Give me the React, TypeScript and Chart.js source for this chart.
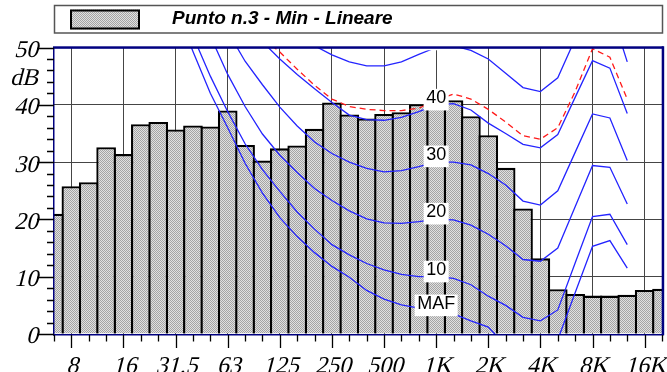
import React, { useEffect, useRef } from 'react';
import { Chart, registerables } from 'chart.js';

Chart.register(...registerables);

// 1/3-octave band centres (Hz)
const bands = ['6.3', '8', '10', '12.5', '16', '20', '25', '31.5', '40', '50', '63', '80', '100', '125', '160', '200', '250', '315', '400', '500', '630', '800', '1K', '1.25K', '1.6K', '2K', '2.5K', '3.15K', '4K', '5K', '6.3K', '8K', '10K', '12.5K', '16K', '20K'];
const octaveLabels = ['8', '16', '31.5', '63', '125', '250', '500', '1K', '2K', '4K', '8K', '16K'];

const seriesLabel = 'Punto n.3 - Min - Lineare';
// measured levels (dB)
const levels = [21.0, 25.8, 26.5, 32.6, 31.4, 36.6, 37.0, 35.7, 36.4, 36.2, 39.0, 33.0, 30.3, 32.4, 32.9, 35.8, 40.4, 38.3, 37.6, 38.4, 38.7, 40.1, 40.3, 40.8, 38.0, 34.7, 29.0, 21.9, 13.2, 7.8, 7.0, 6.7, 6.7, 6.85, 7.7, 7.9];

const N = null;
// equal-loudness contours
const curveMAF = [N, N, N, N, N, N, N, 57, 49.3, 42, 36, 29.8, 24.6, 20.3, 17.0, 14.2, 11.8, 9.9, 7.6, 6.1, 5.1, 4.5, 4.0, 3.5, 2.3, 1.2, -2, -6, -6.5, -1, 7.2, 15.3, 16.3, 11.5, N, N];
const curve10 = [N, N, N, N, N, N, N, 59, 52, 45, 38.8, 33.2, 28.7, 24.9, 21.3, 18.3, 15.6, 13.8, 12.3, 11.2, 10.4, 10.0, 10.0, 9.7, 8.6, 6.6, 5.0, 2.9, 2.3, 4.2, 12.4, 20.5, 20.9, 15.6, N, N];
const curve20 = [N, N, N, N, N, N, N, N, 58.5, 52, 45.3, 39.7, 34.9, 31.2, 28.2, 25.4, 23.3, 21.5, 20.1, 19.4, 19.3, 19.6, 20.0, 19.9, 19.0, 17.4, 15.4, 13.0, 12.7, 15.0, 22.2, 29.4, 29.1, 22.7, N, N];
const curve30 = [N, N, N, N, N, N, N, N, N, N, 52.8, 47.6, 43.5, 39.6, 36.3, 33.5, 31.5, 30.0, 28.9, 28.3, 28.5, 29.2, 30.0, 30.0, 29.5, 28.0, 26.0, 23.2, 22.5, 25.0, 31.7, 38.4, 37.7, 30.3, N, N];
const curve40 = [N, N, N, N, N, N, N, N, N, N, N, 55, 51.0, 48.0, 45.3, 42.8, 40.4, 38.2, 37.4, 37.3, 37.8, 38.8, 40.0, 40.2, 39.1, 36.8, 35.0, 33.1, 32.5, 34.8, 41.3, 47.7, 46.4, 38.5, N, N];
const curveRed = [N, N, N, N, N, N, N, N, N, N, N, 55.5, 51.7, 49.2, 46.2, 43.4, 41.0, 39.7, 39.2, 39.0, 39.0, 39.4, 40.8, 41.9, 41.0, 39.2, 37.0, 34.6, 34.0, 36.0, 42.3, 49.8, 48.3, 41.0, N, N];
const curve50 = [N, N, N, N, N, N, N, N, N, N, N, N, N, 55.5, 52.3, 50.3, 48.7, 47.5, 46.8, 46.8, 47.5, 48.8, 50.0, 50.3, 49.5, 48.0, 45.5, 43.0, 42.3, 44.7, 51.5, 58.0, 57.0, 47.5, N, N];

const contourNames = ['MAF', '10', '20', '30', '40', '50'];
const contourLabelLevels = [5.0, 10.9, 21.0, 31.0, 40.9, 51.4];
const labelBand = '1K';
const unitLabel = 'dB';

const serif = '"Liberation Serif", "Times New Roman", serif';
const sans = '"Liberation Sans", Arial, sans-serif';
const SLANT = -0.26;

function makePattern(): CanvasPattern | string {
  const c = document.createElement('canvas');
  c.width = 2;
  c.height = 2;
  const g = c.getContext('2d');
  if (!g) return '#c0c0c0';
  g.fillStyle = '#e0e0e0';
  g.fillRect(0, 0, 2, 2);
  g.fillStyle = '#a4a4a4';
  g.fillRect(0, 0, 1, 1);
  g.fillRect(1, 1, 1, 1);
  return g.createPattern(c, 'repeat') || '#c0c0c0';
}

function slantText(ctx: CanvasRenderingContext2D, text: string, x: number, y: number, align: CanvasTextAlign) {
  ctx.save();
  ctx.translate(x, y);
  ctx.transform(1, 0, SLANT, 1, 0, 0);
  ctx.textAlign = align;
  ctx.textBaseline = 'alphabetic';
  ctx.fillText(text, 0, 0);
  ctx.restore();
}

export default function App() {
  const ref = useRef<HTMLCanvasElement | null>(null);

  useEffect(() => {
    document.body.style.margin = '0';
    const canvas = ref.current;
    if (!canvas) return;
    const pattern = makePattern();

    const decor = {
      id: 'decor',
      beforeDraw(chart: any) {
        const ctx = chart.ctx;
        ctx.save();
        ctx.strokeStyle = '#555';
        ctx.lineWidth = 1.5;
        ctx.strokeRect(54.5, 5.5, 608, 27.5);
        ctx.fillStyle = pattern;
        ctx.fillRect(70, 9.5, 70, 20);
        ctx.strokeStyle = '#000';
        ctx.lineWidth = 2;
        ctx.strokeRect(71, 10.5, 68, 18);
        ctx.fillStyle = '#000';
        ctx.font = 'italic bold 19px ' + sans;
        ctx.textAlign = 'left';
        ctx.textBaseline = 'alphabetic';
        ctx.fillText(seriesLabel, 172, 23.5);
        ctx.restore();
      },
      afterDatasetsDraw(chart: any) {
        const { ctx, chartArea: a, scales } = chart;
        const x = scales.x;
        const y = scales.y;
        ctx.save();
        ctx.beginPath();
        ctx.rect(a.left, a.top, a.right - a.left, a.bottom - a.top);
        ctx.clip();
        ctx.font = '18px ' + sans;
        ctx.textAlign = 'center';
        ctx.textBaseline = 'middle';
        const lx = x.getPixelForValue(bands.indexOf(labelBand));
        contourNames.forEach((name, k) => {
          const ly = y.getPixelForValue(contourLabelLevels[k]);
          const w = ctx.measureText(name).width + 5;
          ctx.fillStyle = '#fff';
          ctx.fillRect(lx - w / 2, ly - 10.8, w, 21.6);
          ctx.fillStyle = '#000';
          ctx.fillText(name, lx, ly - 1.4);
        });
        ctx.restore();

        ctx.save();
        // plot frame
        ctx.fillStyle = '#000080';
        ctx.fillRect(a.left - 1, a.top - 1.2, a.right - a.left + 2.5, 2.5);
        ctx.fillRect(a.right - 0.3, a.top - 1.2, 2.5, a.bottom - a.top + 2.5);
        ctx.fillRect(a.left - 1, a.top, 1.5, a.bottom - a.top + 1.5);
        ctx.fillRect(a.left - 1, a.bottom, a.right - a.left + 2.5, 1.5);
        // tick marks
        ctx.strokeStyle = '#000';
        ctx.lineWidth = 1.3;
        ctx.beginPath();
        for (let v = 0; v <= 50; v += 2) {
          const py = Math.round(y.getPixelForValue(v)) + 0.5;
          const len = v % 10 === 0 ? 17 : 7;
          ctx.moveTo(a.left - len, py);
          ctx.lineTo(a.left, py);
        }
        for (let i = 0; i < bands.length; i++) {
          const px = Math.round(x.getPixelForValue(i)) + 0.5;
          const len = octaveLabels.includes(bands[i]) ? 13 : 6.5;
          ctx.moveTo(px, a.bottom + 1);
          ctx.lineTo(px, a.bottom + 1 + len);
        }
        ctx.stroke();
        // tick labels (italic serif)
        ctx.fillStyle = '#000';
        ctx.font = '24px ' + serif;
        y.ticks.forEach((t: any) => {
          slantText(ctx, String(t.value), 38, y.getPixelForValue(t.value) + 9.4, 'right');
        });
        slantText(ctx, unitLabel, 38, 85, 'right');
        bands.forEach((b, i) => {
          if (octaveLabels.includes(b)) slantText(ctx, b, x.getPixelForValue(i) + 1, 373, 'center');
        });
        ctx.restore();
      },
    };

    const lineDs = (data: (number | null)[], color: string, dash: number[] = []) => ({
      type: 'line' as const,
      data,
      borderColor: color,
      borderWidth: 1.3,
      borderDash: dash,
      pointRadius: 0,
      tension: 0,
      spanGaps: false,
      clip: 0,
      order: 0,
    });

    const chart = new Chart(canvas, {
      type: 'bar',
      data: {
        labels: bands,
        datasets: [
          lineDs(curveMAF, '#2424ff'),
          lineDs(curve10, '#2424ff'),
          lineDs(curve20, '#2424ff'),
          lineDs(curve30, '#2424ff'),
          lineDs(curve40, '#2424ff'),
          lineDs(curveRed, '#ff1a1a', [6, 4]),
          lineDs(curve50, '#2424ff'),
          {
            type: 'bar',
            label: seriesLabel,
            data: levels,
            backgroundColor: pattern as any,
            borderColor: '#000',
            borderWidth: { top: 2.3, left: 2.3, right: 2.3, bottom: 0 },
            borderSkipped: 'start',
            barPercentage: 1.132,
            categoryPercentage: 1,
            order: 1,
          } as any,
        ],
      },
      options: {
        responsive: false,
        animation: false,
        devicePixelRatio: 1,
        layout: { padding: { top: 47.5, right: 5, left: 0, bottom: 0 } },
        plugins: { legend: { display: false }, tooltip: { enabled: false } },
        scales: {
          x: {
            type: 'category',
            offset: false,
            border: { display: false },
            grid: {
              offset: false,
              drawTicks: false,
              lineWidth: 1,
              color: (c: any) => (octaveLabels.includes(bands[c.index]) ? '#454545' : 'rgba(0,0,0,0)'),
            },
            ticks: { display: false, autoSkip: false },
            afterFit: (s: any) => {
              s.height = 38;
            },
          },
          y: {
            type: 'linear',
            min: 0,
            max: 50,
            border: { display: false },
            grid: { drawTicks: false, color: '#454545', lineWidth: 1 },
            ticks: { display: false, stepSize: 10 },
            afterFit: (s: any) => {
              s.width = 54;
            },
          },
        },
      } as any,
      plugins: [decor],
    });

    return () => chart.destroy();
  }, []);

  return (
    <div style={{ width: 667, height: 372, position: 'relative' }}>
      <canvas ref={ref} width={667} height={372} style={{ display: 'block', width: 667, height: 372 }} />
    </div>
  );
}
